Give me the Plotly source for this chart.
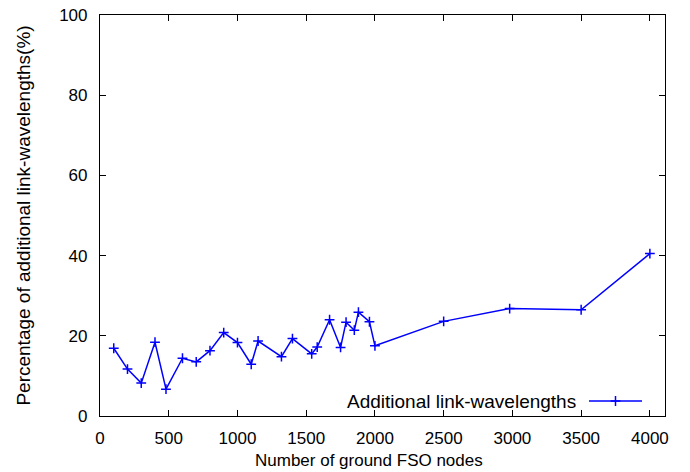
import plotly.graph_objects as go

nodes = [100, 200, 300, 400, 480, 600, 700, 800, 900, 1000, 1100, 1150, 1320, 1400,
         1540, 1580, 1670, 1750, 1790, 1850, 1880, 1960, 2000, 2500, 2980, 3500, 4000]
pct = [16.9, 11.7, 8.2, 18.4, 6.7, 14.4, 13.5, 16.3, 20.8, 18.3, 12.9, 18.7, 14.8, 19.3,
       15.5, 17.2, 24.0, 17.1, 23.4, 21.4, 25.9, 23.5, 17.5, 23.6, 26.8, 26.5, 40.5]
series_name = "Additional link-wavelengths"
x_title = "Number of ground FSO nodes"
y_title = "Percentage of additional link-wavelengths(%)"
x_ticks = [0, 500, 1000, 1500, 2000, 2500, 3000, 3500, 4000]
y_ticks = [0, 20, 40, 60, 80, 100]

blue = "#0000ff"
fam = "Liberation Sans, Arial, sans-serif"
font = dict(family=fam, size=17, color="black")

fig = go.Figure()
fig.add_trace(go.Scatter(
    x=nodes, y=pct, mode="lines+markers", name=series_name,
    line=dict(color=blue, width=1.5),
    marker=dict(symbol="cross-thin", size=7, line=dict(color=blue, width=1.5)),
    showlegend=False,
))

axis_common = dict(
    showgrid=False, zeroline=False, showline=True, linecolor="black", linewidth=1.2,
    mirror="ticks", ticks="inside", ticklen=6, tickwidth=1, tickcolor="black",
    tickfont=font, automargin=False,
)
fig.update_layout(
    width=690, height=472,
    margin=dict(l=100, r=25, t=15, b=56),
    paper_bgcolor="white", plot_bgcolor="white",
    font=font,
    xaxis=dict(range=[0, 4110], tickvals=x_ticks, ticklabelstandoff=6, **axis_common),
    yaxis=dict(range=[0, 100], tickvals=y_ticks, ticklabelstandoff=8,
               title=dict(text=y_title, font=dict(family=fam, size=19), standoff=23),
               **axis_common),
)

# x-axis title, placed slightly left of centre as in the reference
fig.add_annotation(xref="paper", yref="paper", x=(369 - 100) / 565, y=(416 - 460) / 401,
                   text=x_title, showarrow=False, xanchor="center", yanchor="middle",
                   font=dict(family=fam, size=17))

# gnuplot-style legend: text on the left, sample on the right
ly = (416 - 401) / 401
fig.add_annotation(xref="paper", yref="paper", x=(578 - 100) / 565, y=ly,
                   text=series_name, showarrow=False, xanchor="right", yanchor="middle",
                   font=dict(family=fam, size=19))
lx0, lx1 = (589 - 100) / 565, (642 - 100) / 565
fig.add_shape(type="line", xref="paper", yref="paper", x0=lx0, x1=lx1, y0=ly, y1=ly,
              line=dict(color=blue, width=1.5))
fig.add_trace(go.Scatter(x=[(lx0 + lx1) / 2], y=[ly], xaxis="x2", yaxis="y2", mode="markers",
                         marker=dict(symbol="cross-thin", size=7, line=dict(color=blue, width=1.5)),
                         showlegend=False, hoverinfo="skip"))
fig.update_layout(
    xaxis2=dict(range=[0, 1], overlaying="x", visible=False),
    yaxis2=dict(range=[0, 1], overlaying="y", visible=False),
)

fig.write_html("out.html")
